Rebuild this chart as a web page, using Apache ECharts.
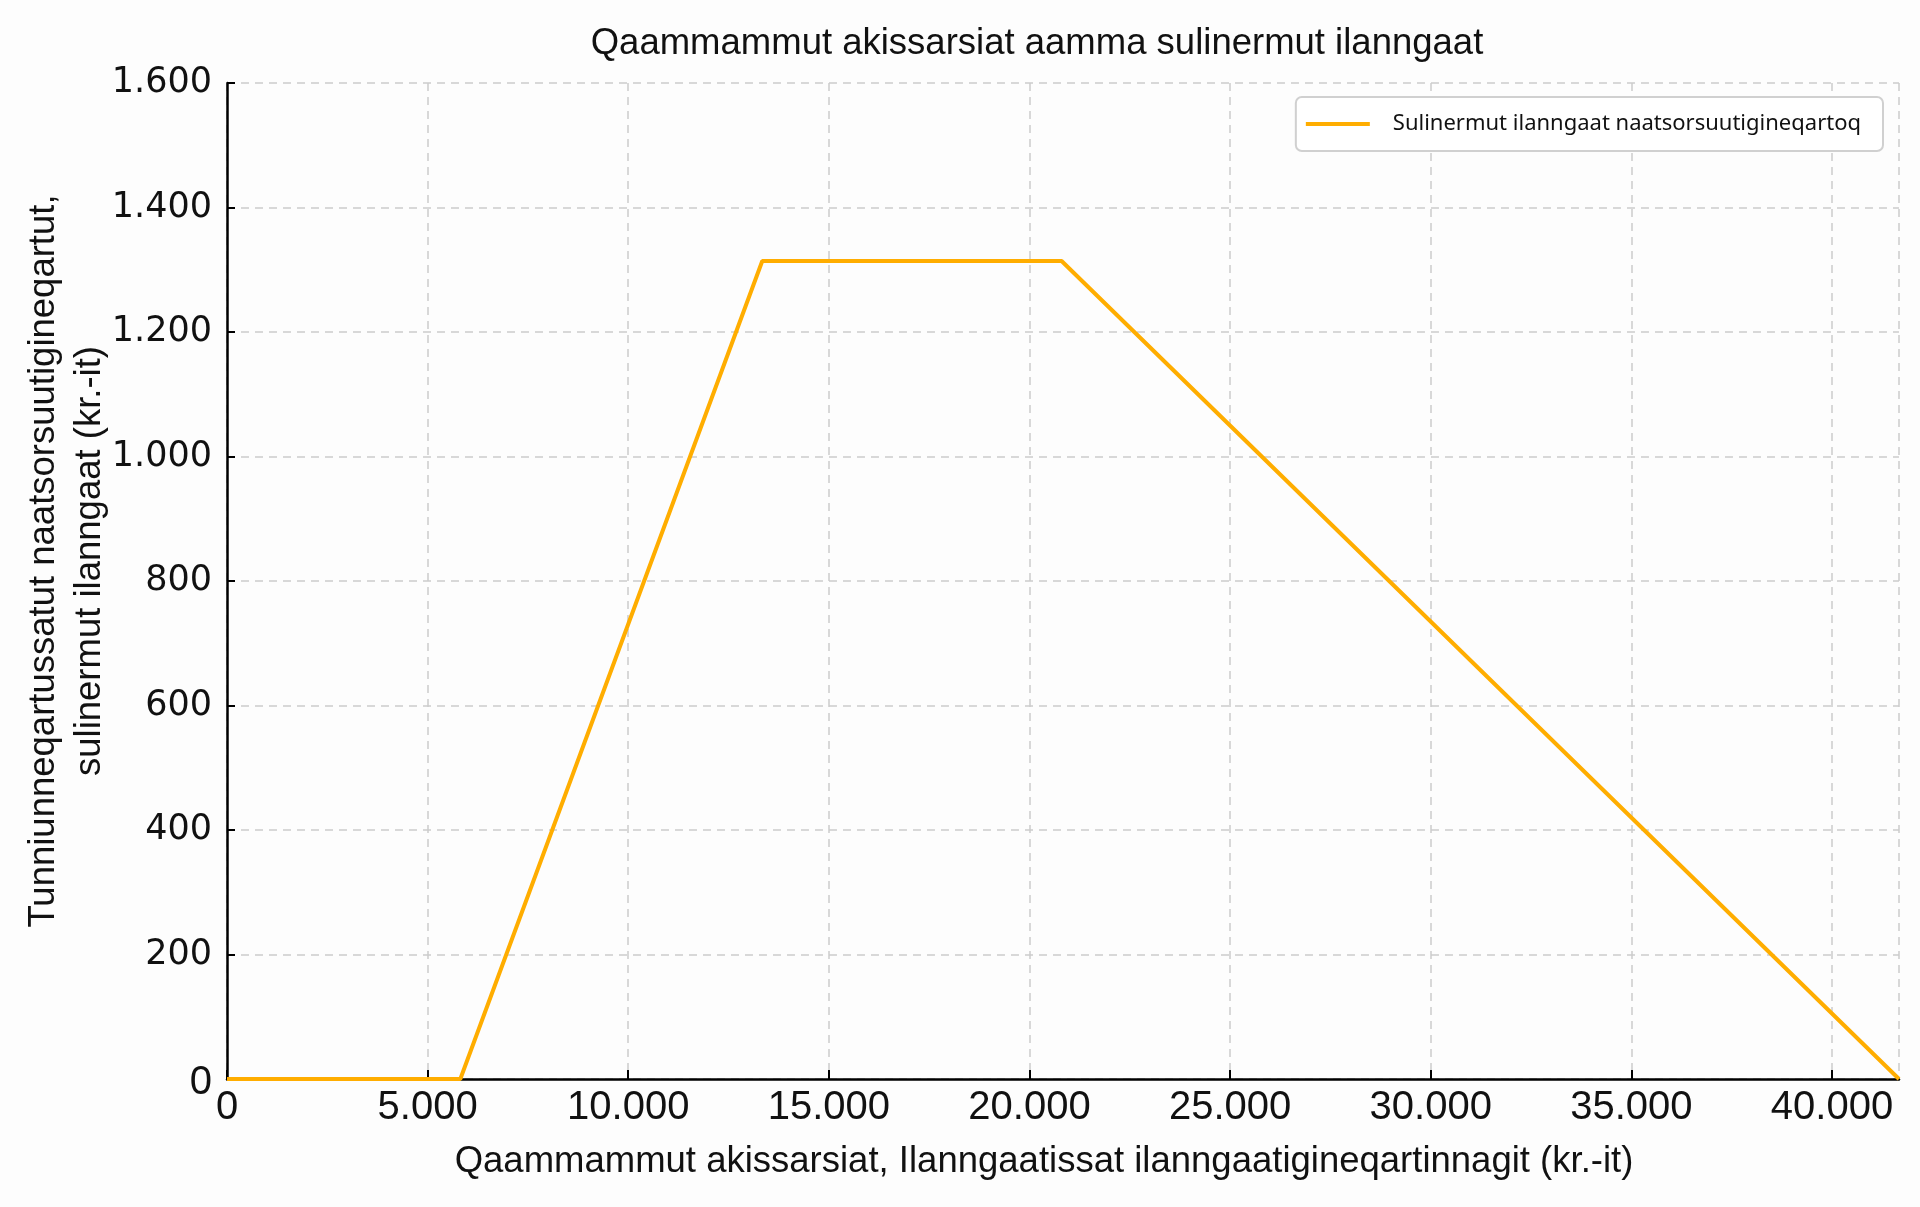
<!DOCTYPE html>
<html>
<head>
<meta charset="utf-8">
<script src="https://cdn.jsdelivr.net/npm/echarts@6/dist/echarts.min.js"></script>
<style>
html,body{margin:0;padding:0;background:#fdfdfd;}
#c{width:1920px;height:1207px;}
</style>
</head>
<body>
<div id="c"></div>
<script>
// Data
const incomeX = [0, 5815, 13340, 20800, 41670];
const deductionY = [0, 0, 1314, 1314, 0];
const seriesName = 'Sulinermut ilanngaat naatsorsuutigineqartoq';
const chartTitle = 'Qaammammut akissarsiat aamma sulinermut ilanngaat';
const xTitle = 'Qaammammut akissarsiat, Ilanngaatissat ilanngaatigineqartinnagit (kr.-it)';
const yTitleLines = ['Tunniunneqartussatut naatsorsuutigineqartut,', 'sulinermut ilanngaat (kr.-it)'];
const xMax = 41670;
const yMax = 1600;

const sans = '"Liberation Sans", Arial, sans-serif';
function fmt(v){ return String(Math.round(v)).replace(/\B(?=(\d{3})+(?!\d))/g, '.'); }

const chart = echarts.init(document.getElementById('c'));
chart.setOption({
  backgroundColor: '#fdfdfd',
  animation: false,
  title: {
    text: chartTitle,
    left: 1032, top: 20, textAlign: 'center',
    textStyle: {fontFamily: sans, fontSize: 36.5, fontWeight: 'normal', color: '#111'}
  },
  legend: {
    right: 37, top: 97,
    itemWidth: 64, itemHeight: 4, itemGap: 10,
    padding: [16, 22, 16, 10],
    borderColor: '#d0d0d0', borderWidth: 2, borderRadius: 6,
    backgroundColor: '#ffffff',
    textStyle: {fontFamily: '"Noto Sans", sans-serif', fontSize: 22, color: '#111', padding: [0,0,0,18]},
    data: [{name: seriesName, icon: 'rect'}]
  },
  grid: {left: 227, right: 21, top: 83, bottom: 128, containLabel: false},
  xAxis: {
    type: 'value', min: 0, max: xMax, interval: 5000,
    z: 3,
    axisLine: {show: true, lineStyle: {color: '#000', width: 2.5}},
    axisTick: {show: true, inside: true, length: 9, lineStyle: {color: '#000', width: 2}},
    axisLabel: {
      fontFamily: sans, fontSize: 40, color: '#111', margin: 9,
      showMaxLabel: false,
      formatter: v => fmt(v)
    },
    splitLine: {show: true, lineStyle: {color: '#cccccc', width: 1.5, type: [8, 6]}}
  },
  yAxis: {
    type: 'value', min: 0, max: yMax, interval: 200,
    z: 3,
    axisLine: {show: true, lineStyle: {color: '#000', width: 2.5}},
    axisTick: {show: true, inside: true, length: 8, lineStyle: {color: '#000', width: 2}},
    axisLabel: {
      fontFamily: '"DejaVu Sans", sans-serif', fontSize: 35, color: '#111', margin: 15,
      formatter: v => v === 0 ? '{z|0}' : fmt(v),
      rich: {z: {fontFamily: sans, fontSize: 40, color: '#111', padding: [8, 0, 0, 0]}}
    },
    splitLine: {show: true, lineStyle: {color: '#cccccc', width: 1.5, type: [8, 6]}}
  },
  graphic: [
    {
      type: 'text', x: 1044, y: 1162,
      style: {text: xTitle, fontFamily: sans, fontSize: 36.5, fill: '#111', align: 'center', verticalAlign: 'middle'}
    },
    {
      type: 'text', x: 67, y: 561, rotation: Math.PI / 2,
      style: {text: yTitleLines.join('\n'), fontFamily: sans, fontSize: 36.5, lineHeight: 46, fill: '#111', align: 'center', verticalAlign: 'middle'}
    }
  ],
  series: [{
    name: seriesName,
    type: 'line',
    data: incomeX.map((x, i) => [x, deductionY[i]]),
    showSymbol: false, symbol: 'none',
    lineStyle: {color: '#ffad00', width: 4},
    itemStyle: {color: '#ffad00'},
    clip: false
  }]
});
</script>
</body>
</html>
